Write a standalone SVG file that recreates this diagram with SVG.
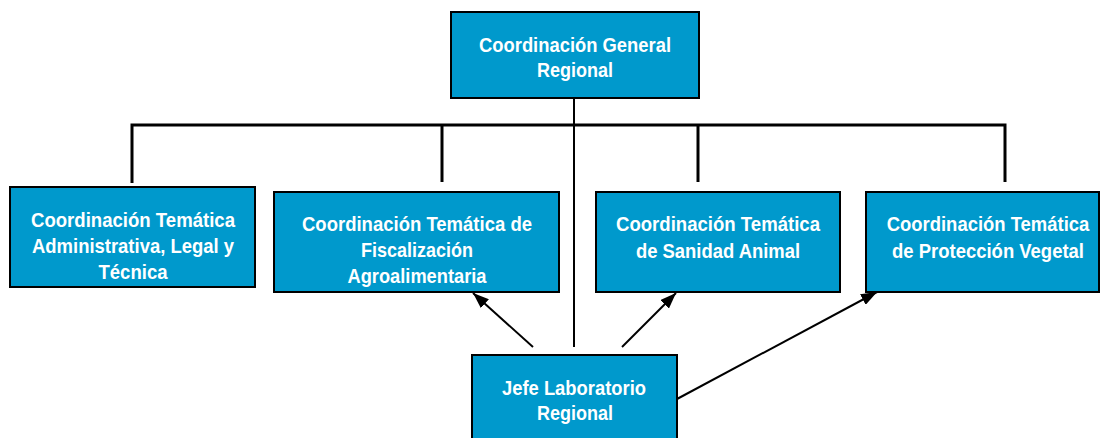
<svg xmlns="http://www.w3.org/2000/svg" width="1101" height="438" viewBox="0 0 1101 438">
<style>
.box{fill:#0099CC;stroke:#000;stroke-width:2}
.t{font-family:"Liberation Sans",Arial,sans-serif;font-weight:bold;font-size:21px;fill:#fff;text-anchor:middle}
.bus{fill:none;stroke:#000;stroke-width:3}
.thin{fill:none;stroke:#000;stroke-width:2}
</style>
<defs>
<marker id="ah" markerUnits="userSpaceOnUse" markerWidth="16" markerHeight="12" viewBox="0 0 16 12" refX="16" refY="6" orient="auto">
<path d="M0,0 L16,6 L0,12 z" fill="#000"/>
</marker>
<clipPath id="c2"><rect x="274" y="192" width="285" height="95"/></clipPath>
</defs>
<rect width="1101" height="438" fill="#fff"/>
<g id="connectors">
<path class="bus" d="M132,183 V125 H1005 V182"/>
<line class="bus" x1="442" y1="125" x2="442" y2="182"/>
<line class="bus" x1="698" y1="125" x2="698" y2="182"/>
<line class="thin" x1="574" y1="98" x2="574" y2="347"/>
<line class="thin" x1="533" y1="347" x2="473" y2="293" marker-end="url(#ah)"/>
<line class="thin" x1="622" y1="347" x2="676" y2="293" marker-end="url(#ah)"/>
<line class="thin" x1="677" y1="399" x2="877" y2="292" marker-end="url(#ah)"/>
</g>
<g id="n-general">
<rect class="box" x="451" y="12" width="248" height="86"/>
<text class="t" x="575" y="52" textLength="192" lengthAdjust="spacingAndGlyphs">Coordinación General</text>
<text class="t" x="575" y="77" textLength="76" lengthAdjust="spacingAndGlyphs">Regional</text>
</g>
<g id="n-admin">
<rect class="box" x="10" y="187" width="245" height="100"/>
<text class="t" x="133" y="227" textLength="204" lengthAdjust="spacingAndGlyphs">Coordinación Temática</text>
<text class="t" x="133" y="253" textLength="202" lengthAdjust="spacingAndGlyphs">Administrativa, Legal y</text>
<text class="t" x="133" y="279" textLength="69" lengthAdjust="spacingAndGlyphs">Técnica</text>
</g>
<g id="n-fiscal">
<rect class="box" x="274" y="192" width="285" height="100"/>
<g clip-path="url(#c2)">
<text class="t" x="417" y="231" textLength="230" lengthAdjust="spacingAndGlyphs">Coordinación Temática de</text>
<text class="t" x="417" y="257" textLength="112" lengthAdjust="spacingAndGlyphs">Fiscalización</text>
<text class="t" x="417" y="283" textLength="139" lengthAdjust="spacingAndGlyphs">Agroalimentaria</text>
</g>
</g>
<g id="n-sanidad">
<rect class="box" x="596" y="192" width="244" height="100"/>
<text class="t" x="718" y="231" textLength="204" lengthAdjust="spacingAndGlyphs">Coordinación Temática</text>
<text class="t" x="718" y="258" textLength="164" lengthAdjust="spacingAndGlyphs">de Sanidad Animal</text>
</g>
<g id="n-vegetal">
<rect class="box" x="866" y="192" width="233" height="100"/>
<text class="t" x="0" y="0" transform="translate(988,231) scale(0.879,1)">Coordinación Temática</text>
<text class="t" x="0" y="0" transform="translate(988,258) scale(0.88,1)">de Protección Vegetal</text>
</g>
<g id="n-lab">
<rect class="box" x="472" y="355" width="205" height="90"/>
<text class="t" x="574" y="395" textLength="144" lengthAdjust="spacingAndGlyphs">Jefe Laboratorio</text>
<text class="t" x="575" y="420" textLength="76" lengthAdjust="spacingAndGlyphs">Regional</text>
</g>
</svg>
